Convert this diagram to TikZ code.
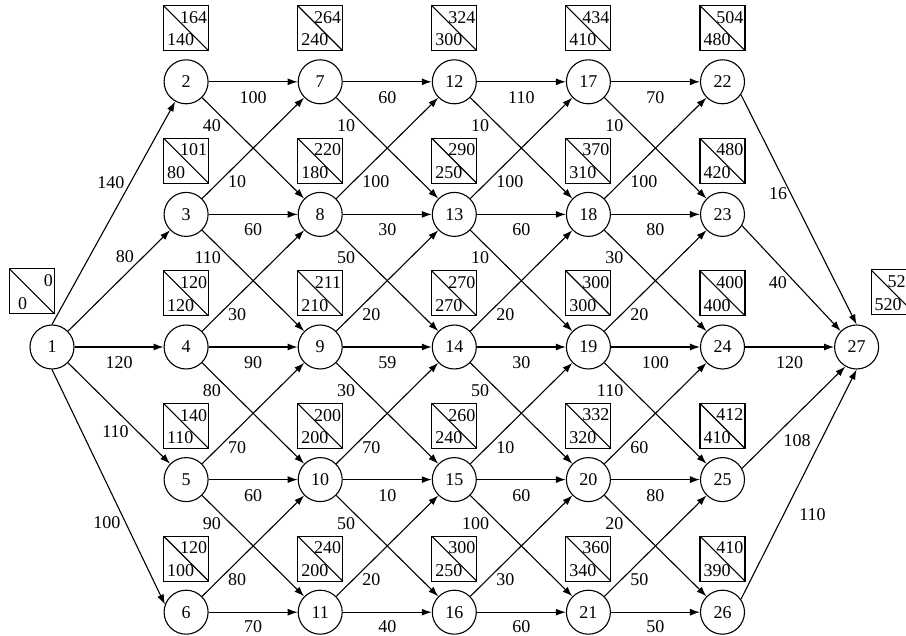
\documentclass[tikz,border=0pt]{standalone}
\usepackage{fontspec}
\setmainfont{Liberation Serif}
\usepackage{tikz}
\usetikzlibrary{arrows.meta, positioning}

\begin{document}
\begin{tikzpicture}[
      x=1pt, y=-1pt,
      font=\fontsize{18}{20}\selectfont,
      node distance=87.5pt and 89pt,
      evt/.style={draw, circle, minimum size=44pt, inner sep=0pt, line width=1.1pt},
      tbox/.style 2 args={draw, line width=1.1pt, minimum size=45pt, inner sep=0pt,
        path picture={
          \draw[line width=1.1pt] (path picture bounding box.north west)
            -- (path picture bounding box.south east);
          \node[draw=none, minimum size=0pt, anchor=north east, inner xsep=1pt, inner ysep=5pt]
            at (path picture bounding box.north east) {#1};
          \node[draw=none, minimum size=0pt, anchor=south west, inner xsep=3pt, inner ysep=4pt]
            at (path picture bounding box.south west) {#2};
        }},
      arr/.style={-{Latex[length=10pt, width=7pt]}, line width=1.1pt},
      lab/.style={inner sep=1pt}
    ]
    \useasboundingbox (0,0) rectangle (906,636);

    % events
    \node[evt] (n1) at (52,347) {1};
    \node[evt, right=of n1] (n4) {4};
    \node[evt, above=of n4] (n3) {3};
    \node[evt, above=of n3] (n2) {2};
    \node[evt, below=of n4] (n5) {5};
    \node[evt, below=of n5] (n6) {6};
    \node[evt, right=of n2] (n7) {7};
    \node[evt, right=of n3] (n8) {8};
    \node[evt, right=of n4] (n9) {9};
    \node[evt, right=of n5] (n10) {10};
    \node[evt, right=of n6] (n11) {11};
    \node[evt, right=of n7] (n12) {12};
    \node[evt, right=of n8] (n13) {13};
    \node[evt, right=of n9] (n14) {14};
    \node[evt, right=of n10] (n15) {15};
    \node[evt, right=of n11] (n16) {16};
    \node[evt, right=of n12] (n17) {17};
    \node[evt, right=of n13] (n18) {18};
    \node[evt, right=of n14] (n19) {19};
    \node[evt, right=of n15] (n20) {20};
    \node[evt, right=of n16] (n21) {21};
    \node[evt, right=of n17] (n22) {22};
    \node[evt, right=of n18] (n23) {23};
    \node[evt, right=of n19] (n24) {24};
    \node[evt, right=of n20] (n25) {25};
    \node[evt, right=of n21] (n26) {26};
    \node[evt, right=of n24] (n27) {27};

    % time boxes
    \node[tbox={0\hspace{5pt}}{\hspace{5pt}0}, above=10pt of n1, xshift=-20pt] (t1) {};
    \node[tbox={164}{140}, above=8pt of n2] (t2) {};
    \node[tbox={101}{80}, above=8pt of n3] (t3) {};
    \node[tbox={120}{120}, above=8pt of n4] (t4) {};
    \node[tbox={140}{110}, above=8pt of n5] (t5) {};
    \node[tbox={120}{100}, above=8pt of n6] (t6) {};
    \node[tbox={264}{240}, above=8pt of n7] (t7) {};
    \node[tbox={220}{180}, above=8pt of n8] (t8) {};
    \node[tbox={211}{210}, above=8pt of n9] (t9) {};
    \node[tbox={200}{200}, above=8pt of n10] (t10) {};
    \node[tbox={240}{200}, above=8pt of n11] (t11) {};
    \node[tbox={324}{300}, above=8pt of n12] (t12) {};
    \node[tbox={290}{250}, above=8pt of n13] (t13) {};
    \node[tbox={270}{270}, above=8pt of n14] (t14) {};
    \node[tbox={260}{240}, above=8pt of n15] (t15) {};
    \node[tbox={300}{250}, above=8pt of n16] (t16) {};
    \node[tbox={434}{410}, above=8pt of n17] (t17) {};
    \node[tbox={370}{310}, above=8pt of n18] (t18) {};
    \node[tbox={300}{300}, above=8pt of n19] (t19) {};
    \node[tbox={332}{320}, above=8pt of n20] (t20) {};
    \node[tbox={360}{340}, above=8pt of n21] (t21) {};
    \node[tbox={504}{480}, above=8pt of n22] (t22) {};
    \node[tbox={480}{420}, above=8pt of n23] (t23) {};
    \node[tbox={400}{400}, above=8pt of n24] (t24) {};
    \node[tbox={412}{410}, above=8pt of n25] (t25) {};
    \node[tbox={410}{390}, above=8pt of n26] (t26) {};
    \node[tbox={520}{520}, above=9pt of n27, xshift=37pt] (t27) {};

    % activities
    \draw[arr] (n1.north) -- node[lab, pos=.6, anchor=south east] {140} (n2);
    \draw[arr] (n1) -- node[lab, pos=.66, anchor=south east] {80} (n3);
    \draw[arr] (n1) -- node[lab, below=8pt] {120} (n4);
    \draw[arr] (n1) -- node[lab, pos=.61, anchor=north east] {110} (n5);
    \draw[arr] (n1.south) -- node[lab, pos=.62, anchor=north east] {100} (n6.160);

    \draw[arr] (n2) -- node[lab, below=8pt] {100} (n7);
    \draw[arr] (n2) -- node[lab, pos=.2, anchor=north east] {40} (n8);
    \draw[arr] (n3) -- node[lab, pos=.24, anchor=north west] {10} (n7);
    \draw[arr] (n3) -- node[lab, below=8pt] {60} (n8);
    \draw[arr] (n3) -- node[lab, pos=.2, anchor=north east] {110} (n9);
    \draw[arr] (n4) -- node[lab, pos=.24, anchor=north west] {30} (n8);
    \draw[arr] (n4) -- node[lab, below=8pt] {90} (n9);
    \draw[arr] (n4) -- node[lab, pos=.2, anchor=north east] {80} (n10);
    \draw[arr] (n5) -- node[lab, pos=.24, anchor=north west] {70} (n9);
    \draw[arr] (n5) -- node[lab, below=8pt] {60} (n10);
    \draw[arr] (n5) -- node[lab, pos=.2, anchor=north east] {90} (n11);
    \draw[arr] (n6) -- node[lab, pos=.24, anchor=north west] {80} (n10);
    \draw[arr] (n6) -- node[lab, below=7pt] {70} (n11);

    \draw[arr] (n7) -- node[lab, below=8pt] {60} (n12);
    \draw[arr] (n7) -- node[lab, pos=.2, anchor=north east] {10} (n13);
    \draw[arr] (n8) -- node[lab, pos=.24, anchor=north west] {100} (n12);
    \draw[arr] (n8) -- node[lab, below=8pt] {30} (n13);
    \draw[arr] (n8) -- node[lab, pos=.2, anchor=north east] {50} (n14);
    \draw[arr] (n9) -- node[lab, pos=.24, anchor=north west] {20} (n13);
    \draw[arr] (n9) -- node[lab, below=8pt] {59} (n14);
    \draw[arr] (n9) -- node[lab, pos=.2, anchor=north east] {30} (n15);
    \draw[arr] (n10) -- node[lab, pos=.24, anchor=north west] {70} (n14);
    \draw[arr] (n10) -- node[lab, below=8pt] {10} (n15);
    \draw[arr] (n10) -- node[lab, pos=.2, anchor=north east] {50} (n16);
    \draw[arr] (n11) -- node[lab, pos=.24, anchor=north west] {20} (n15);
    \draw[arr] (n11) -- node[lab, below=7pt] {40} (n16);

    \draw[arr] (n12) -- node[lab, below=8pt] {110} (n17);
    \draw[arr] (n12) -- node[lab, pos=.2, anchor=north east] {10} (n18);
    \draw[arr] (n13) -- node[lab, pos=.24, anchor=north west] {100} (n17);
    \draw[arr] (n13) -- node[lab, below=8pt] {60} (n18);
    \draw[arr] (n13) -- node[lab, pos=.2, anchor=north east] {10} (n19);
    \draw[arr] (n14) -- node[lab, pos=.24, anchor=north west] {20} (n18);
    \draw[arr] (n14) -- node[lab, below=8pt] {30} (n19);
    \draw[arr] (n14) -- node[lab, pos=.2, anchor=north east] {50} (n20);
    \draw[arr] (n15) -- node[lab, pos=.24, anchor=north west] {10} (n19);
    \draw[arr] (n15) -- node[lab, below=8pt] {60} (n20);
    \draw[arr] (n15) -- node[lab, pos=.2, anchor=north east] {100} (n21);
    \draw[arr] (n16) -- node[lab, pos=.24, anchor=north west] {30} (n20);
    \draw[arr] (n16) -- node[lab, below=7pt] {60} (n21);

    \draw[arr] (n17) -- node[lab, below=8pt] {70} (n22);
    \draw[arr] (n17) -- node[lab, pos=.2, anchor=north east] {10} (n23);
    \draw[arr] (n18) -- node[lab, pos=.24, anchor=north west] {100} (n22);
    \draw[arr] (n18) -- node[lab, below=8pt] {80} (n23);
    \draw[arr] (n18) -- node[lab, pos=.2, anchor=north east] {30} (n24);
    \draw[arr] (n19) -- node[lab, pos=.24, anchor=north west] {20} (n23);
    \draw[arr] (n19) -- node[lab, below=8pt] {100} (n24);
    \draw[arr] (n19) -- node[lab, pos=.2, anchor=north east] {110} (n25);
    \draw[arr] (n20) -- node[lab, pos=.24, anchor=north west] {60} (n24);
    \draw[arr] (n20) -- node[lab, below=8pt] {80} (n25);
    \draw[arr] (n20) -- node[lab, pos=.2, anchor=north east] {20} (n26);
    \draw[arr] (n21) -- node[lab, pos=.24, anchor=north west] {50} (n25);
    \draw[arr] (n21) -- node[lab, below=7pt] {50} (n26);

    \draw[arr] (n22.-35) -- node[lab, pos=.43, anchor=east, xshift=-2pt] {16} (n27.north);
    \draw[arr] (n23.-30) -- node[lab, pos=.47, anchor=north east] {40} (n27.135);
    \draw[arr] (n24) -- node[lab, below=8pt] {120} (n27);
    \draw[arr] (n25.30) -- node[lab, pos=.35, anchor=north west, xshift=4pt] {108} (n27.-120);
    \draw[arr] (n26.35) -- node[lab, pos=.37, anchor=west, xshift=14pt] {110} (n27.south);
  \end{tikzpicture}
\end{document}
